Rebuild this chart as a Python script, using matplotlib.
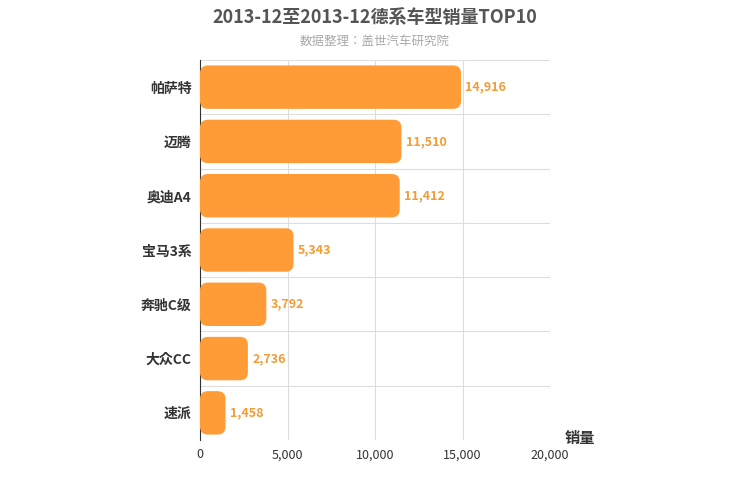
import matplotlib.pyplot as plt
from matplotlib import font_manager
from matplotlib.patches import FancyBboxPatch

cjk = sorted({f.name for f in font_manager.fontManager.ttflist
              if "CJK" in f.name and "serif" not in f.fname.lower() and "Serif" not in f.name},
             key=lambda s: "SC" not in s)
plt.rcParams["font.family"] = "sans-serif"
plt.rcParams["font.sans-serif"] = cjk + ["DejaVu Sans"]

models = ["帕萨特", "迈腾", "奥迪A4", "宝马3系", "奔驰C级", "大众CC", "速派"]
sales = [14916, 11510, 11412, 5343, 3792, 2736, 1458]
xticks = [0, 5000, 10000, 15000, 20000]

fig = plt.figure(figsize=(7.5, 5), dpi=100)
ax = fig.add_axes([200 / 750, 60 / 500, 350 / 750, 380 / 500])

n = len(models)
ypos = list(range(n))[::-1]
aspect = (n / 380) / (20000 / 350)
for y, v in zip(ypos, sales):
    ax.add_patch(FancyBboxPatch((0, y - 0.4), v, 0.8,
                                boxstyle="round,pad=0,rounding_size=450",
                                mutation_aspect=aspect,
                                facecolor="#ff9c38", edgecolor="none", zorder=3))
    ax.text(v + 250, y, f"{v:,}", va="center", ha="left",
            color="#f39c35", fontsize=9, fontweight="bold", zorder=4)

ax.set_xlim(0, 20000)
ax.set_ylim(-0.5, n - 0.5)
ax.set_xticks(xticks)
ax.set_xticklabels([f"{t:,}" for t in xticks], fontsize=9, color="#333333")
ax.set_yticks(ypos)
ax.set_yticklabels(models, fontsize=10, fontweight="bold", color="#333333")
for b in [i - 0.5 for i in range(n + 1)]:
    ax.axhline(b, color="#dddddd", lw=0.8, zorder=1)
ax.grid(axis="x", color="#dddddd", lw=0.8, zorder=1)
for s in ["top", "right", "bottom"]:
    ax.spines[s].set_visible(False)
ax.spines["left"].set_color("#333333")
ax.tick_params(axis="y", length=0, pad=6)
ax.tick_params(axis="x", length=0, pad=6)

fig.text(0.5, 0.965, "2013-12至2013-12德系车型销量TOP10", ha="center", va="center",
         fontsize=13, fontweight="bold", color="#555555")
fig.text(0.5, 0.918, "数据整理：盖世汽车研究院", ha="center", va="center",
         fontsize=9, color="#aaaaaa")
fig.text(565 / 750, 1 - 438 / 500, "销量", ha="left", va="center",
         fontsize=11, fontweight="bold", color="#333333")

fig.savefig("out.png", dpi=100)
